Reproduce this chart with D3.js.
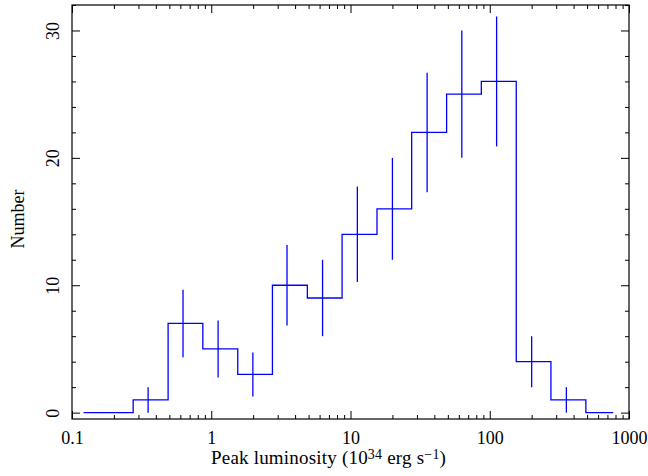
<!DOCTYPE html>
<html>
<head>
<meta charset="utf-8">
<script src="https://cdn.jsdelivr.net/npm/d3@7"></script>
<style>
  body { margin: 0; background: #fff; }
  text { font-family: "Liberation Serif", "Times New Roman", serif; fill: #000; }
</style>
</head>
<body>
<script>
// bin edges (10^34 erg/s), counts per bin, error bar positions and half-lengths
const edges = [0.121, 0.275, 0.49, 0.87, 1.55, 2.75, 4.9, 8.7, 15.5, 27.5, 49, 87, 155, 275, 490, 770];
const counts = [0, 1, 7, 5, 3, 10, 9, 14, 16, 22, 25, 26, 4, 1, 0];
const errX = [0.352, 0.627, 1.12, 1.99, 3.5, 6.3, 11.2, 20, 35.5, 63, 112, 200, 355];
const errY = [1, 7, 5, 3, 10, 9, 14, 16, 22, 25, 26, 4, 1];
const errSize = [1, 2.65, 2.24, 1.73, 3.16, 3, 3.74, 4, 4.69, 5, 5.1, 2, 1];
const xMajor = [0.1, 1, 10, 100, 1000];
const xLabels = ["0.1", "1", "10", "100", "1000"];
const yMajor = [0, 10, 20, 30];

const w = 648, h = 476;
const margin = { top: 5, right: 19, bottom: 57, left: 72 };

const svg = d3.select("body").append("svg")
  .attr("width", w)
  .attr("height", h);

const x = d3.scaleLog()
  .domain([0.1, 1000])
  .range([margin.left, w - margin.right]);

const y = d3.scaleLinear()
  .domain([-0.5, 32])
  .range([h - margin.bottom, margin.top]);

const xMinor = [];
for (let d = 0.1; d < 1000; d *= 10) {
  for (let k = 2; k <= 9; k++) xMinor.push(+(d * k).toPrecision(3));
}
const yMinor = d3.range(0, 33, 2).filter(v => v % 10 !== 0);

const yBot = h - margin.bottom, yTop = margin.top;
const xLeft = margin.left, xRight = w - margin.right;

function clean(g) {
  g.select(".domain").remove();
  g.selectAll(".tick line").attr("stroke", "#000").attr("stroke-width", 1);
}

// x axes (bottom with labels, top without), ticks pointing inward
svg.append("g").attr("transform", `translate(0,${yBot})`)
  .call(d3.axisBottom(x).tickValues(xMajor).tickSize(-8)
    .tickFormat((d, i) => xLabels[i]).tickPadding(12))
  .call(clean)
  .call(g => g.selectAll("text").attr("font-size", 18).attr("dy", "0.71em"));
svg.append("g").attr("transform", `translate(0,${yBot})`)
  .call(d3.axisBottom(x).tickValues(xMinor).tickSize(-4).tickFormat(""))
  .call(clean);
svg.append("g").attr("transform", `translate(0,${yTop})`)
  .call(d3.axisTop(x).tickValues(xMajor).tickSize(-8).tickFormat(""))
  .call(clean);
svg.append("g").attr("transform", `translate(0,${yTop})`)
  .call(d3.axisTop(x).tickValues(xMinor).tickSize(-4).tickFormat(""))
  .call(clean);

// y axes
svg.append("g").attr("transform", `translate(${xLeft},0)`)
  .call(d3.axisLeft(y).tickValues(yMajor).tickSize(-8))
  .call(clean)
  .call(g => g.selectAll("text")
    .attr("font-size", 18)
    .attr("x", 0).attr("y", 0).attr("dy", 0)
    .attr("text-anchor", "middle")
    .attr("transform", "translate(-13,0) rotate(-90)"));
svg.append("g").attr("transform", `translate(${xLeft},0)`)
  .call(d3.axisLeft(y).tickValues(yMinor).tickSize(-4).tickFormat(""))
  .call(clean);
svg.append("g").attr("transform", `translate(${xRight},0)`)
  .call(d3.axisRight(y).tickValues(yMajor).tickSize(-8).tickFormat(""))
  .call(clean);
svg.append("g").attr("transform", `translate(${xRight},0)`)
  .call(d3.axisRight(y).tickValues(yMinor).tickSize(-4).tickFormat(""))
  .call(clean);

// frame
svg.append("rect")
  .attr("x", xLeft).attr("y", yTop)
  .attr("width", xRight - xLeft).attr("height", yBot - yTop)
  .attr("fill", "none").attr("stroke", "#000").attr("stroke-width", 1.2);

// histogram
const stepData = edges.map((e, i) => [e, counts[Math.min(i, counts.length - 1)]]);
const line = d3.line()
  .x(d => x(d[0]))
  .y(d => y(d[1]))
  .curve(d3.curveStepAfter);

svg.append("path")
  .datum(stepData)
  .attr("d", line)
  .attr("fill", "none")
  .attr("stroke", "#0000ff")
  .attr("stroke-width", 1.3);

// error bars
svg.selectAll(".err")
  .data(errX)
  .enter()
  .append("line")
  .classed("err", true)
  .attr("x1", d => x(d))
  .attr("x2", d => x(d))
  .attr("y1", (d, i) => y(errY[i] - errSize[i]))
  .attr("y2", (d, i) => y(errY[i] + errSize[i]))
  .attr("stroke", "#0000ff")
  .attr("stroke-width", 1.3);

// axis titles
const xt = svg.append("text")
  .attr("x", 211).attr("y", 464)
  .attr("font-size", 19)
  .attr("letter-spacing", 0.2);
xt.append("tspan").text("Peak luminosity (10");
xt.append("tspan").attr("font-size", 14).attr("dy", -5).text("34");
xt.append("tspan").attr("dy", 5).text(" erg s");
xt.append("tspan").attr("font-size", 14).attr("dy", -5).text("\u22121");
xt.append("tspan").attr("dy", 5).text(")");

svg.append("text")
  .attr("transform", "translate(24,219) rotate(-90)")
  .attr("text-anchor", "middle")
  .attr("font-size", 18)
  .text("Number");
</script>
</body>
</html>
